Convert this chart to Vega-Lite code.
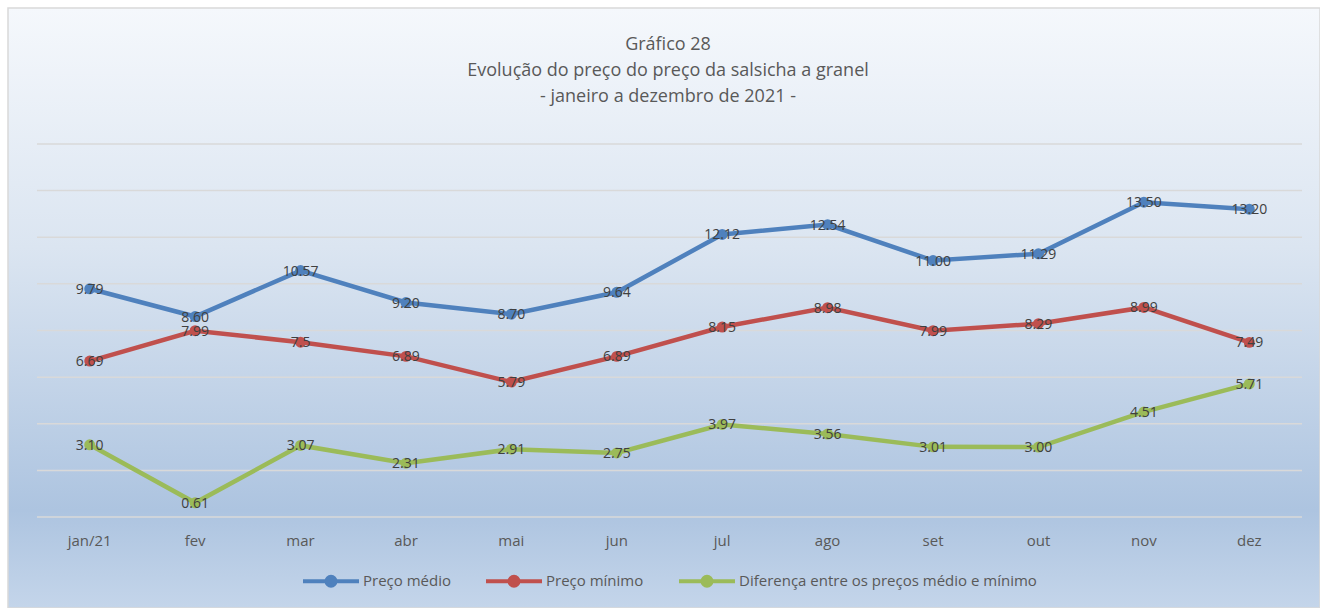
{
  "$schema": "https://vega.github.io/schema/vega-lite/v6.json",
  "width": 1312,
  "height": 600,
  "autosize": {"type": "none"},
  "padding": {"left": 8, "top": 8, "right": 0, "bottom": 0},
  "background": "#ffffff",
  "config": {
    "font": "Open Sans",
    "view": {
      "fill": {"gradient": "linear", "x1": 0, "y1": 0, "x2": 0, "y2": 1,
        "stops": [
          {"offset": 0, "color": "#f5f8fc"},
          {"offset": 0.4, "color": "#dbe5f1"},
          {"offset": 0.837, "color": "#adc4e0"},
          {"offset": 1, "color": "#c4d5ea"}
        ]},
      "stroke": "#d9d9d9",
      "strokeWidth": 1.5
    }
  },
  "title": {
    "text": ["Gráfico 28", "Evolução do preço do preço da salsicha a granel", "- janeiro a dezembro de 2021 -"],
    "font": "Open Sans",
    "fontSize": 18,
    "fontWeight": "normal",
    "color": "#595959",
    "lineHeight": 26,
    "anchor": "middle",
    "frame": "group",
    "offset": -98,
    "dx": 4
  },
  "datasets": {
    "precos": [
      {"mes": "jan/21", "serie": "Preço médio", "valor": 9.79, "rotulo": "9.79"},
      {"mes": "fev", "serie": "Preço médio", "valor": 8.60, "rotulo": "8.60"},
      {"mes": "mar", "serie": "Preço médio", "valor": 10.57, "rotulo": "10.57"},
      {"mes": "abr", "serie": "Preço médio", "valor": 9.20, "rotulo": "9.20"},
      {"mes": "mai", "serie": "Preço médio", "valor": 8.70, "rotulo": "8.70"},
      {"mes": "jun", "serie": "Preço médio", "valor": 9.64, "rotulo": "9.64"},
      {"mes": "jul", "serie": "Preço médio", "valor": 12.12, "rotulo": "12.12"},
      {"mes": "ago", "serie": "Preço médio", "valor": 12.54, "rotulo": "12.54"},
      {"mes": "set", "serie": "Preço médio", "valor": 11.00, "rotulo": "11.00"},
      {"mes": "out", "serie": "Preço médio", "valor": 11.29, "rotulo": "11.29"},
      {"mes": "nov", "serie": "Preço médio", "valor": 13.50, "rotulo": "13.50"},
      {"mes": "dez", "serie": "Preço médio", "valor": 13.20, "rotulo": "13.20"},
      {"mes": "jan/21", "serie": "Preço mínimo", "valor": 6.69, "rotulo": "6.69"},
      {"mes": "fev", "serie": "Preço mínimo", "valor": 7.99, "rotulo": "7.99"},
      {"mes": "mar", "serie": "Preço mínimo", "valor": 7.5, "rotulo": "7.5"},
      {"mes": "abr", "serie": "Preço mínimo", "valor": 6.89, "rotulo": "6.89"},
      {"mes": "mai", "serie": "Preço mínimo", "valor": 5.79, "rotulo": "5.79"},
      {"mes": "jun", "serie": "Preço mínimo", "valor": 6.89, "rotulo": "6.89"},
      {"mes": "jul", "serie": "Preço mínimo", "valor": 8.15, "rotulo": "8.15"},
      {"mes": "ago", "serie": "Preço mínimo", "valor": 8.98, "rotulo": "8.98"},
      {"mes": "set", "serie": "Preço mínimo", "valor": 7.99, "rotulo": "7.99"},
      {"mes": "out", "serie": "Preço mínimo", "valor": 8.29, "rotulo": "8.29"},
      {"mes": "nov", "serie": "Preço mínimo", "valor": 8.99, "rotulo": "8.99"},
      {"mes": "dez", "serie": "Preço mínimo", "valor": 7.49, "rotulo": "7.49"},
      {"mes": "jan/21", "serie": "Diferença entre os preços médio e mínimo", "valor": 3.10, "rotulo": "3.10"},
      {"mes": "fev", "serie": "Diferença entre os preços médio e mínimo", "valor": 0.61, "rotulo": "0.61"},
      {"mes": "mar", "serie": "Diferença entre os preços médio e mínimo", "valor": 3.07, "rotulo": "3.07"},
      {"mes": "abr", "serie": "Diferença entre os preços médio e mínimo", "valor": 2.31, "rotulo": "2.31"},
      {"mes": "mai", "serie": "Diferença entre os preços médio e mínimo", "valor": 2.91, "rotulo": "2.91"},
      {"mes": "jun", "serie": "Diferença entre os preços médio e mínimo", "valor": 2.75, "rotulo": "2.75"},
      {"mes": "jul", "serie": "Diferença entre os preços médio e mínimo", "valor": 3.97, "rotulo": "3.97"},
      {"mes": "ago", "serie": "Diferença entre os preços médio e mínimo", "valor": 3.56, "rotulo": "3.56"},
      {"mes": "set", "serie": "Diferença entre os preços médio e mínimo", "valor": 3.01, "rotulo": "3.01"},
      {"mes": "out", "serie": "Diferença entre os preços médio e mínimo", "valor": 3.00, "rotulo": "3.00"},
      {"mes": "nov", "serie": "Diferença entre os preços médio e mínimo", "valor": 4.51, "rotulo": "4.51"},
      {"mes": "dez", "serie": "Diferença entre os preços médio e mínimo", "valor": 5.71, "rotulo": "5.71"}
    ],
    "grade": [
      {"v": 0}, {"v": 2}, {"v": 4}, {"v": 6}, {"v": 8}, {"v": 10}, {"v": 12}, {"v": 14}, {"v": 16}
    ]
  },
  "layer": [
    {
      "data": {"name": "grade"},
      "mark": {"type": "rule", "color": "#d9d9d9", "strokeWidth": 1.5},
      "encoding": {
        "x": {"datum": "jan/21", "type": "nominal", "bandPosition": 0,
          "scale": {"type": "band", "domain": ["jan/21", "fev", "mar", "abr", "mai", "jun", "jul", "ago", "set", "out", "nov", "dez"], "paddingInner": 0, "paddingOuter": 0.2229, "align": 0.617},
          "axis": {"title": null, "domain": false, "ticks": false, "tickSize": 0, "grid": false, "labelAngle": 0, "labelFont": "Open Sans", "labelFontSize": 15, "labelColor": "#595959", "labelPadding": 16, "offset": -91}},
        "x2": {"datum": "dez", "bandPosition": 1},
        "y": {"field": "v", "type": "quantitative",
          "scale": {"domain": [-3.9, 21.83], "nice": false, "zero": false},
          "axis": null}
      }
    },
    {
      "data": {"name": "precos"},
      "mark": {"type": "line", "strokeWidth": 4.5, "point": {"size": 120, "filled": true, "opacity": 1}},
      "encoding": {
        "x": {"field": "mes", "type": "nominal"},
        "y": {"field": "valor", "type": "quantitative"},
        "color": {"field": "serie", "type": "nominal",
          "scale": {"domain": ["Preço médio", "Preço mínimo", "Diferença entre os preços médio e mínimo"], "range": ["#4f81bd", "#c0504d", "#9bbb59"]},
          "legend": {
            "orient": "none", "legendX": 293, "legendY": 543, "direction": "horizontal",
            "title": null, "labelFont": "Open Sans", "labelFontSize": 15, "labelColor": "#595959",
            "labelOffset": 2, "columnPadding": 27, "labelLimit": 500,
            "symbolType": "M-1,0H1M-0.16,0a0.16,0.16 0 1,0 0.32,0a0.16,0.16 0 1,0 -0.32,0",
            "symbolSize": 3136, "symbolStrokeWidth": 4,
            "encode": {"symbols": {"update": {"fill": {"scale": "color", "field": "value"}, "stroke": {"scale": "color", "field": "value"}, "opacity": {"value": 1}}}}
          }}
      }
    },
    {
      "data": {"name": "precos"},
      "mark": {"type": "text", "font": "Open Sans", "fontSize": 14, "color": "#404040", "align": "center", "baseline": "middle", "dy": 1},
      "encoding": {
        "x": {"field": "mes", "type": "nominal"},
        "y": {"field": "valor", "type": "quantitative"},
        "text": {"field": "rotulo"}
      }
    }
  ]
}
